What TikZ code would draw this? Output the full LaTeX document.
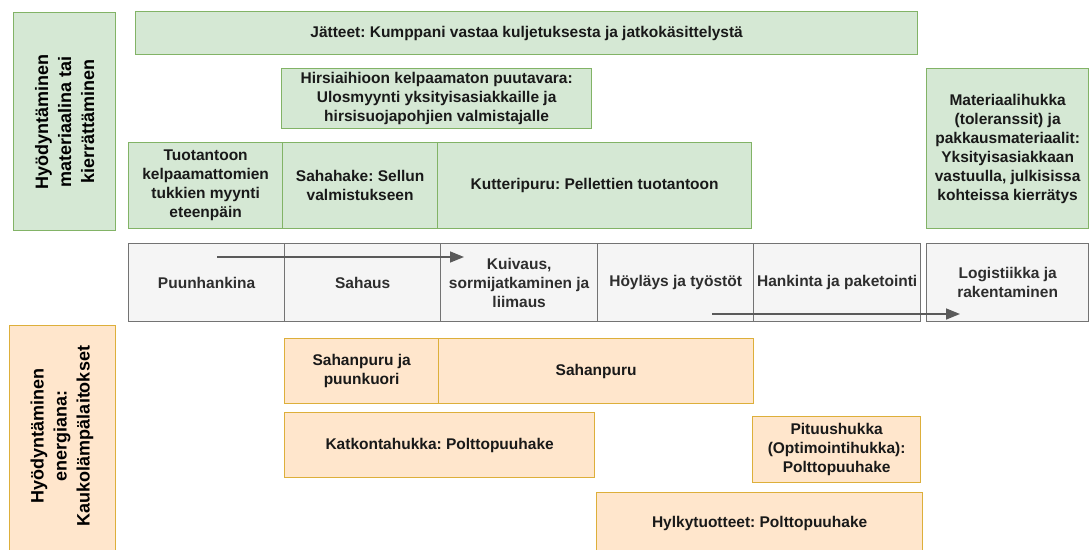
\documentclass[tikz,border=0pt]{standalone}
\usepackage{fontspec}
\setmainfont{Liberation Sans}
\usetikzlibrary{arrows.meta}
\frenchspacing
\definecolor{grfill}{HTML}{D5E8D4}
\definecolor{grline}{HTML}{82B366}
\definecolor{orfill}{HTML}{FFE6CC}
\definecolor{orline}{HTML}{DDAF3A}
\definecolor{gyfill}{HTML}{F5F5F5}
\definecolor{gyline}{HTML}{737373}
\definecolor{gytext}{HTML}{2E2E2E}
\definecolor{arrowgray}{HTML}{5A5A5A}
\tikzset{
  basebox/.style={rectangle, anchor=north west, inner sep=0pt, align=center,
    line width=1.3pt, font=\bfseries\fontsize{15.5}{19}\selectfont},
  greenbox/.style={basebox, draw=grline, fill=grfill, text=black!90},
  orangebox/.style={basebox, draw=orline, fill=orfill, text=black!90},
  processbox/.style={basebox, draw=gyline, fill=gyfill, text=gytext},
  sidelabel/.style={font=\bfseries\fontsize{18}{23}\selectfont},
  flow/.style={draw=arrowgray, line width=1.5pt, -{Triangle[length=14pt,width=11pt]}},
  sz/.style 2 args={minimum width=#1pt, minimum height=#2pt},
}
\begin{document}
\begin{tikzpicture}[x=1pt,y=-1pt]
\useasboundingbox (0,0) rectangle (1092,549);
\clip (0,0) rectangle (1092,549);

% side categories
\node[greenbox, sz={102}{218}] (matL) at (13,12) {};
\node[sidelabel, rotate=90, align=center] at (matL.center)
  {Hyödyntäminen\\materiaalina tai\\kierrättäminen};
\node[orangebox, sz={106}{230}] (enL) at (9,325) {};
\node[sidelabel, rotate=90, align=center] at (9+53,325+111)
  {Hyödyntäminen\\energiana:\\Kaukolämpälaitokset};

% material use
\node[greenbox, sz={782}{43}] (jat) at (135,11)
  {Jätteet: Kumppani vastaa kuljetuksesta ja jatkokäsittelystä};
\node[greenbox, sz={310}{60}] (hirsi) at (281,68)
  {Hirsiaihioon kelpaamaton puutavara:\\Ulosmyynti yksityisasiakkaille ja\\hirsisuojapohjien valmistajalle};
\node[greenbox, sz={154}{86}] (tuot) at (128,142)
  {Tuotantoon\\kelpaamattomien\\tukkien myynti\\eteenpäin};
\node[greenbox, sz={155}{86}] (saha) at (282,142)
  {Sahahake: Sellun\\valmistukseen};
\node[greenbox, sz={314}{86}] (kutt) at (437,142)
  {Kutteripuru: Pellettien tuotantoon};
\node[greenbox, sz={162}{160}] (mater) at (926,68)
  {Materiaalihukka\\(toleranssit) ja\\pakkausmateriaalit:\\Yksityisasiakkaan\\vastuulla, julkisissa\\kohteissa kierrätys};

% process chain
\node[processbox, sz={156}{78}] (puun) at (128,243) {Puunhankina};
\node[processbox, sz={156}{78}] (sahaus) at (284,243) {Sahaus};
\node[processbox, sz={157}{78}] (kuiv) at (440,243) {Kuivaus,\\sormijatkaminen ja\\liimaus};
\node[processbox, sz={156}{78}] (hoyl) at (597,243) {Höyläys ja työstöt};
\node[processbox, sz={167}{78}] (hank) at (753,243) {Hankinta ja paketointi};
\node[processbox, sz={162}{78}] (logi) at (926,243) {Logistiikka ja\\rakentaminen};

\coordinate (a1s) at (217,257);
\coordinate (a1e) at (464,257);
\coordinate (a2s) at (712,314);
\coordinate (a2e) at (960,314);
\draw[flow] (a1s) -- (a1e);
\draw[flow] (a2s) -- (a2e);

% energy use
\node[orangebox, sz={154}{65}] (spk) at (284,338) {Sahanpuru ja\\puunkuori};
\node[orangebox, sz={315}{65}] (sp) at (438,338) {Sahanpuru};
\node[orangebox, sz={310}{65}] (katk) at (284,412) {Katkontahukka: Polttopuuhake};
\node[orangebox, sz={168}{66}] (pitu) at (752,416) {Pituushukka\\(Optimointihukka):\\Polttopuuhake};
\node[orangebox, sz={326}{62}] (hylk) at (596,492) {\raisebox{3pt}{Hylkytuotteet: Polttopuuhake}};
\end{tikzpicture}
\end{document}
